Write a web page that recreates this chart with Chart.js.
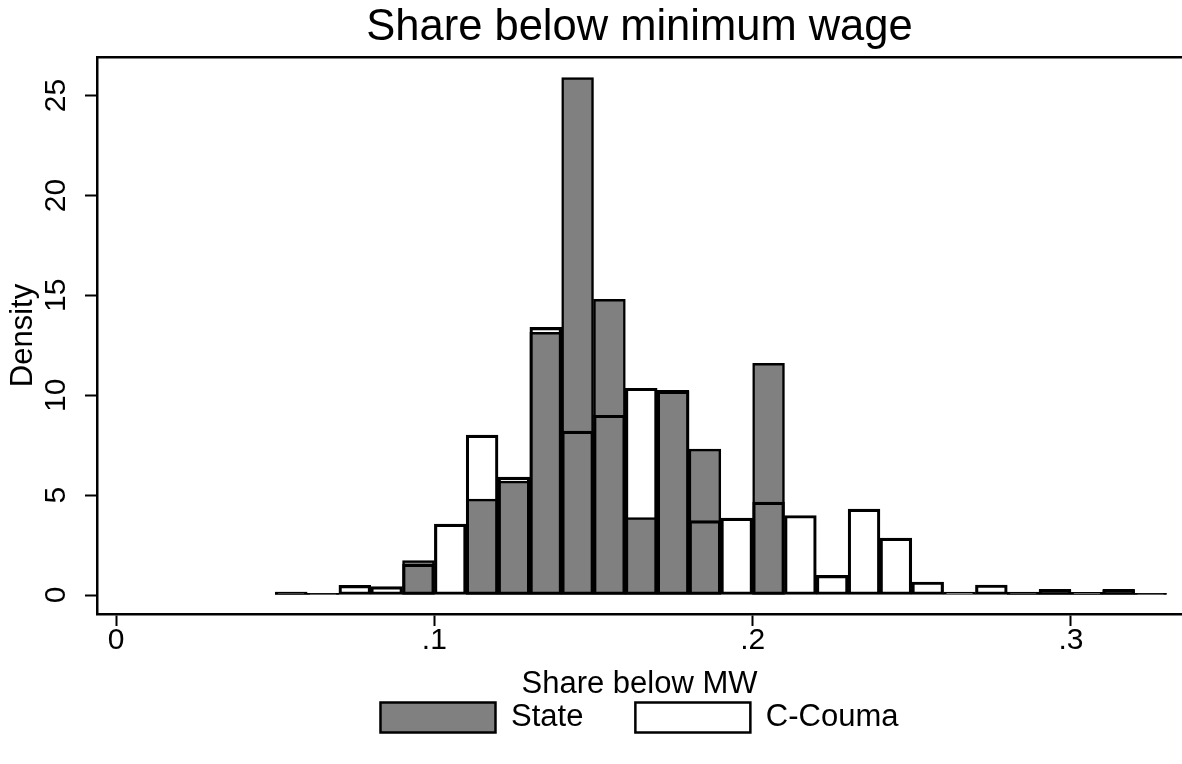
<!DOCTYPE html>
<html>
<head>
<meta charset="utf-8">
<title>Share below minimum wage</title>
<script src="https://cdn.jsdelivr.net/npm/chart.js@4.4.0/dist/chart.umd.min.js"></script>
<style>
  html, body { margin: 0; padding: 0; background: #fff; }
  #wrap { width: 1182px; height: 764px; }
</style>
</head>
<body>
<div id="wrap"><canvas id="chart" width="1182" height="764"></canvas></div>
<script>
// histogram bins (left edges), width .01
const binStart = [0.05, 0.06, 0.07, 0.08, 0.09, 0.10, 0.11, 0.12, 0.13, 0.14,
  0.15, 0.16, 0.17, 0.18, 0.19, 0.20, 0.21, 0.22, 0.23, 0.24,
  0.25, 0.26, 0.27, 0.28, 0.29, 0.30, 0.31, 0.32];
const binWidth = 0.01;

// density
const stateDensity = [0.15, 0.08, null, null, 1.72, null, 4.8, 5.7, 13.15, 25.9,
  14.8, 3.88, 10.25, 7.3, null, 11.6, null, null, null, null,
  null, null, null, 0.14, 0.25, 0.12, 0.25, 0.08];
const ccoumaDensity = [0.15, 0.08, 0.48, 0.42, 1.55, 3.55, 8.0, 5.9, 13.4, 8.2,
  9.0, 10.35, 10.2, 3.72, 3.85, 4.65, 3.98, 0.98, 4.3, 2.85,
  0.65, 0.15, 0.5, 0.15, 0.28, 0.14, 0.28, 0.08];

const xTicks = [0, 0.1, 0.2, 0.3];
const xTickLabels = ["0", ".1", ".2", ".3"];
const yTicks = [0, 5, 10, 15, 20, 25];
const yTickLabels = ["0", "5", "10", "15", "20", "25"];

const toPoints = (vals) => binStart.map((b, i) => ({ x: b + binWidth / 2, y: vals[i] }));

Chart.defaults.font.family = "'Liberation Sans', Arial, sans-serif";
Chart.defaults.color = "#000";

const xRange = { min: -0.006, max: 0.3349 };

new Chart(document.getElementById("chart"), {
  type: "bar",
  data: {
    datasets: [
      {
        // drawn on top, outline only
        label: "C-Couma",
        data: toPoints(ccoumaDensity),
        backgroundColor: "rgba(255,255,255,0)",
        borderColor: "#000",
        borderWidth: 2.5,
        borderSkipped: false,
      },
      {
        label: "State",
        data: toPoints(stateDensity),
        backgroundColor: "#808080",
        borderColor: "#000",
        borderWidth: 2.5,
        borderSkipped: false,
      },
    ],
  },
  options: {
    responsive: false,
    animation: false,
    datasets: {
      bar: { grouped: false, barPercentage: 1, categoryPercentage: 1 },
    },
    layout: { padding: { left: 0, right: 0, top: 0, bottom: 21 } },
    plugins: {
      tooltip: { enabled: false },
      title: {
        display: true,
        text: "Share below minimum wage",
        fullSize: false,
        font: { size: 43.5, weight: "normal" },
        color: "#000",
        padding: { top: 2, bottom: 2.8 },
      },
      legend: {
        position: "bottom",
        reverse: true,
        fullSize: false,
        labels: {
          boxWidth: 115,
          boxHeight: 30,
          padding: 52,
          font: { size: 31 },
          color: "#000",
        },
      },
    },
    scales: {
      x: {
        type: "linear",
        position: "bottom",
        offset: false,
        min: xRange.min,
        max: xRange.max,
        afterBuildTicks: (scale) => { scale.ticks = xTicks.map((v) => ({ value: v })); },
        ticks: {
          autoSkip: false,
          includeBounds: false,
          maxRotation: 0,
          padding: 0,
          font: { size: 30, lineHeight: 1 },
          color: "#000",
          callback: (v, i) => xTickLabels[i],
        },
        grid: { offset: false, drawOnChartArea: false, tickLength: 12, tickColor: "#000", tickWidth: 2 },
        border: { color: "#000", width: 2.5 },
        title: {
          display: true,
          text: "Share below MW",
          font: { size: 31, lineHeight: 1 },
          color: "#000",
          padding: { top: 12.5, bottom: -49.5 },
        },
      },
      xTop: {
        type: "linear",
        position: "top",
        offset: false,
        min: xRange.min,
        max: xRange.max,
        ticks: { display: false },
        grid: { display: false },
        border: { color: "#000", width: 2.5 },
        afterFit: (scale) => { scale.height = 0; },
      },
      y: {
        min: -0.95,
        max: 26.93,
        afterBuildTicks: (scale) => { scale.ticks = yTicks.map((v) => ({ value: v })); },
        afterFit: (scale) => { scale.width = 97; },
        ticks: {
          autoSkip: false,
          includeBounds: false,
          minRotation: 90,
          maxRotation: 90,
          crossAlign: "center",
          padding: 12,
          font: { size: 30 },
          color: "#000",
          callback: (v, i) => yTickLabels[i],
        },
        grid: { drawOnChartArea: false, tickLength: 12, tickColor: "#000", tickWidth: 2 },
        border: { color: "#000", width: 2.5 },
        title: {
          display: true,
          text: "Density",
          font: { size: 31 },
          color: "#000",
          padding: { top: 5, bottom: 0 },
        },
      },
    },
  },
});
</script>
</body>
</html>
